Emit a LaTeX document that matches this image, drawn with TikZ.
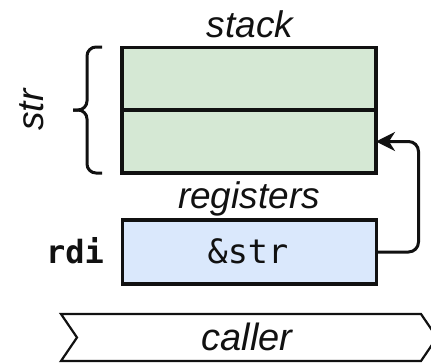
\documentclass[tikz,border=0pt]{standalone}
\usepackage{fontspec}
\setmainfont{Liberation Sans}
\newfontfamily\codefont{DejaVu Sans Mono}
\usetikzlibrary{arrows.meta}
\definecolor{stackgreen}{HTML}{D5E8D4}
\definecolor{regblue}{HTML}{DAE8FC}
\definecolor{ink}{HTML}{111111}
\tikzset{
  cell/.style={draw=ink, line width=3.2pt, minimum width=254pt, inner sep=0pt, outer sep=0pt},
  lbl/.style={font=\fontsize{37}{40}\selectfont\itshape, text=ink, inner sep=0pt, anchor=base},
  code/.style={font=\fontsize{33.5}{36}\selectfont\codefont, text=ink, inner sep=0pt, anchor=base},
  link/.style={draw=ink, line width=3pt, rounded corners=10pt, -{Stealth[length=19pt, width=19pt, inset=6pt]}},
  brace/.style={draw=ink, line width=3pt, rounded corners=9pt},
  chevron/.style={draw=ink, line width=2.2pt, line join=miter}
}
\begin{document}
\begin{tikzpicture}[x=1pt, y=-1pt]
\useasboundingbox (0,0) rectangle (431,362);
\clip (0,0) rectangle (431,362);
% stack
\node[cell, fill=stackgreen, minimum height=62.5pt] (s1) at (249,78.5) {};
\node[cell, fill=stackgreen, minimum height=63pt] (s2) at (249,141.5) {};
\node[lbl] (stacklbl) at (250,37) {stack};
% brace
\draw[brace] (102,47) -| (87,110) -- (73,110);
\draw[brace] (102,173) -| (87,110) -- (73,110);
\node[lbl, rotate=90] (strlbl) at (43,110) {str};
% registers
\node[lbl] (reglbl) at (249,208) {registers};
\node[cell, fill=regblue, minimum height=64pt] (reg) at (249.5,252) {};
\node[code] (val) at (248,263) {\&str};
\node[code, font=\fontsize{32}{36}\selectfont\codefont\bfseries] (rdi) at (75,263) {rdi};
% pointer
\draw[link] (reg.east) -- ++(42,0) |- (s2.east);
% caller
\node[lbl, font=\fontsize{38}{40}\selectfont\itshape] (caller) at (247,350) {caller};
\draw[chevron] (61,314) -- (421,314) -- (437,337.5) -- (421,361) -- (61,361) -- (77,337.5) -- cycle;
\end{tikzpicture}
\end{document}
